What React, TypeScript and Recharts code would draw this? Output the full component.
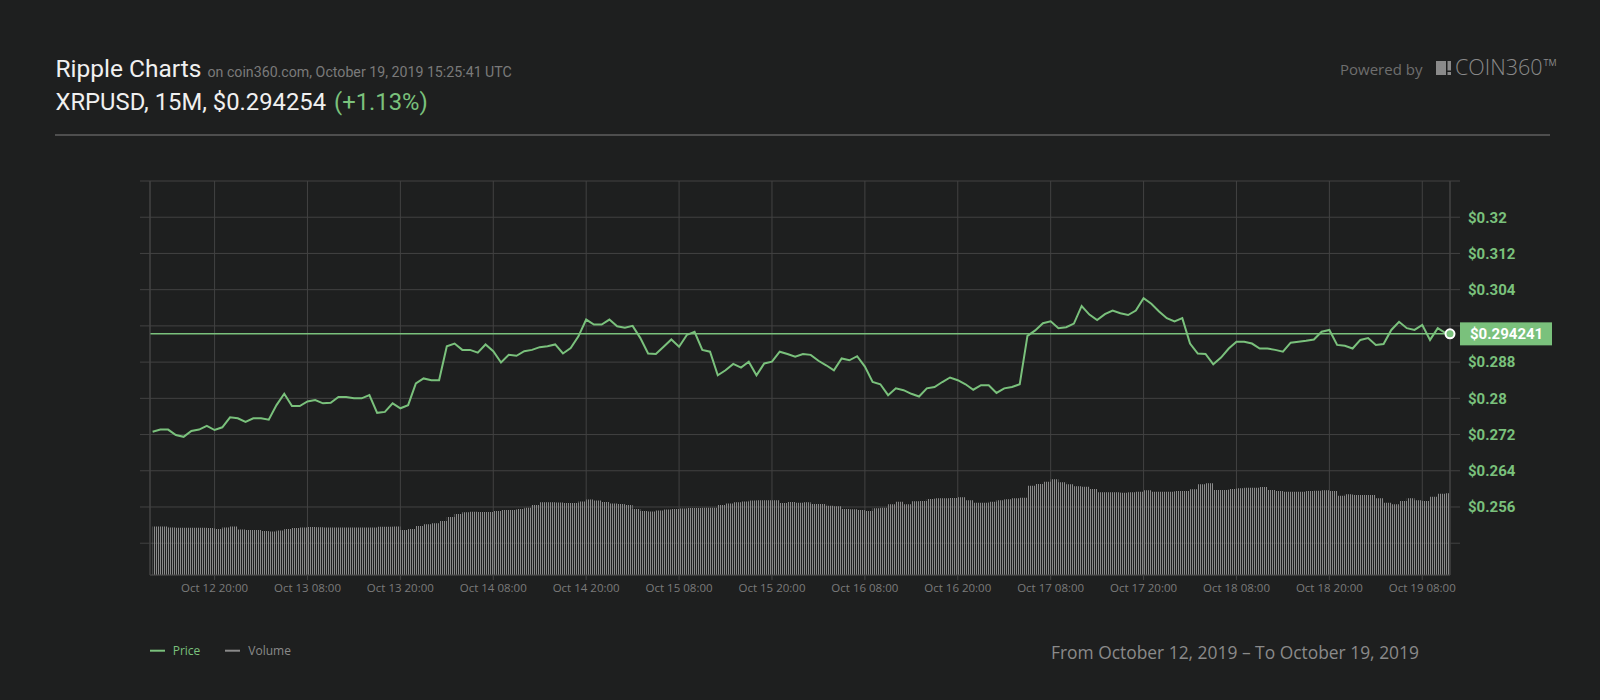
import React from 'react';
import {
  ComposedChart,
  Line,
  Area,
  XAxis,
  YAxis,
  CartesianGrid,
  ReferenceLine,
  ReferenceDot,
} from 'recharts';

const BG = '#1e1f1f';
const GRID = '#424242';
const GREEN = '#7ac17c';
const VOL_GREY = '#8a8a8a';

// x = hours since Oct 12 2019 00:00, one reading per hour from 12:00 on
const FIRST_HOUR = 12;
const LAST_HOUR = 179.58; // live candle, Oct 19 ~11:35
const X_DOMAIN: [number, number] = [11.66, 179.58];

const xTicks = [20, 32, 44, 56, 68, 80, 92, 104, 116, 128, 140, 152, 164, 176];
const xTickLabels = [
  'Oct 12 20:00', 'Oct 13 08:00', 'Oct 13 20:00', 'Oct 14 08:00', 'Oct 14 20:00',
  'Oct 15 08:00', 'Oct 15 20:00', 'Oct 16 08:00', 'Oct 16 20:00', 'Oct 17 08:00',
  'Oct 17 20:00', 'Oct 18 08:00', 'Oct 18 20:00', 'Oct 19 08:00',
];

const priceTicks = [0.248, 0.256, 0.264, 0.272, 0.28, 0.288, 0.296, 0.304, 0.312, 0.32, 0.328];
const hiddenPriceTicks = [0.248, 0.296, 0.328];
const PRICE_DOMAIN: [number, number] = [0.24098, 0.328];

const CURRENT_PRICE = 0.294241;

const hourlyPrice = [
  0.2726, 0.2731, 0.2731, 0.2719, 0.2715, 0.2728, 0.2731, 0.2739, 0.2730, 0.2736, 0.2758, 0.2756,
  0.2748, 0.2756, 0.2756, 0.2753, 0.2785, 0.2810, 0.2783, 0.2783, 0.2793, 0.2796, 0.2789, 0.2790,
  0.2803, 0.2803, 0.2800, 0.2800, 0.2807, 0.2768, 0.2770, 0.2789, 0.2778, 0.2785, 0.2833, 0.2844,
  0.2840, 0.2840, 0.2915, 0.2921, 0.2907, 0.2907, 0.2901, 0.2919, 0.2904, 0.2879, 0.2896, 0.2894,
  0.2904, 0.2907, 0.2913, 0.2915, 0.2919, 0.2899, 0.2911, 0.2937, 0.2974, 0.2963, 0.2963, 0.2974,
  0.2959, 0.2956, 0.2960, 0.2933, 0.2899, 0.2898, 0.2914, 0.2930, 0.2914, 0.2940, 0.2947, 0.2907,
  0.2903, 0.2851, 0.2862, 0.2876, 0.2868, 0.2881, 0.2851, 0.2877, 0.2881, 0.2903, 0.2898, 0.2892,
  0.2898, 0.2896, 0.2883, 0.2873, 0.2862, 0.2888, 0.2884, 0.2893, 0.2870, 0.2836, 0.2831, 0.2807,
  0.2822, 0.2818, 0.2810, 0.2804, 0.2822, 0.2825, 0.2836, 0.2846, 0.2840, 0.2831, 0.2819, 0.2829,
  0.2829, 0.2812, 0.2822, 0.2825, 0.2831, 0.2938, 0.2950, 0.2966, 0.2970, 0.2955, 0.2957, 0.2965,
  0.3004, 0.2985, 0.2973, 0.2986, 0.2994, 0.2988, 0.2984, 0.2994, 0.3021, 0.3009, 0.2992, 0.2977,
  0.2970, 0.2977, 0.2921, 0.2899, 0.2898, 0.2875, 0.2890, 0.2910, 0.2925, 0.2925, 0.2921, 0.2910,
  0.2910, 0.2907, 0.2903, 0.2923, 0.2925, 0.2927, 0.2930, 0.2947, 0.2951, 0.2918, 0.2916, 0.2910,
  0.2929, 0.2933, 0.2918, 0.2920, 0.2951, 0.2969, 0.2955, 0.2951, 0.2962, 0.2929, 0.2955, 0.2944,
];

// volume, relative units (axis hidden)
const hourlyVolume = [
  48.5, 48.5, 47.5, 47.3, 47.3, 47.3, 47.3, 47, 46, 47.5, 48.5, 45.5,
  45, 45, 44, 43.5, 44.5, 46, 47, 47.5, 48, 47.7, 47.5, 47.5,
  47.5, 47.5, 47.5, 47.5, 47.5, 48.3, 48.3, 48.5, 45, 46, 49, 50.7,
  51.7, 54, 58, 61, 62.7, 63.3, 63, 63, 64, 65, 65, 66,
  67.3, 70, 72.7, 72.7, 72.5, 72, 72, 73.5, 75.5, 74.5, 73, 71.5,
  71, 70, 66, 64, 63.5, 64.5, 65.5, 66, 66.5, 67, 67, 67.3,
  67.3, 70, 71.5, 72.7, 73.5, 74.5, 74.7, 74.7, 74.7, 72, 73, 72.3,
  72.7, 71, 71, 69.3, 68.7, 66, 65.7, 65, 64, 66.7, 67.3, 70.7,
  73.3, 70.7, 73.7, 74, 76, 76.7, 76.7, 77, 77.7, 74.7, 72.3, 72.3,
  73.3, 74.7, 75.7, 76.7, 77.3, 89.3, 91, 93.3, 95.7, 92.7, 90.7, 88.7,
  88.3, 86, 82.7, 82.7, 82.7, 82.3, 82.7, 83.3, 84.7, 83.3, 83.3, 83.3,
  84, 84, 85.7, 90.7, 91.7, 85, 85, 86, 86.7, 87.3, 87.3, 88,
  85, 84, 83.3, 83.3, 83.3, 84, 84.3, 84.7, 84, 79.3, 80.7, 80,
  80, 80, 76.7, 72.3, 70.7, 74, 76.7, 74.7, 74, 78.3, 81.3, 81.7,
];
const VOL_DOMAIN: [number, number] = [0, 394];

const chartData = hourlyPrice.map((price, i) => ({
  t: FIRST_HOUR + i,
  price,
  vol: hourlyVolume[i],
}));
chartData.push({ t: LAST_HOUR, price: CURRENT_PRICE, vol: hourlyVolume[hourlyVolume.length - 1] });

const formatPrice = (v: number) => (hiddenPriceTicks.includes(v) ? '' : `$${+v.toFixed(3)}`);
const formatTime = (v: number) => xTickLabels[xTicks.indexOf(v)] ?? '';

const PriceTag = (props: any) => {
  const { viewBox } = props;
  if (!viewBox) return null;
  const x = viewBox.x + viewBox.width + 10;
  const y = viewBox.y;
  return (
    <g>
      <rect x={x} y={y - 11.5} width={92} height={23} fill={GREEN} />
      <text x={x + 10} y={y + 5.5} fill="#ffffff" fontSize={15} fontWeight={700} fontFamily="Roboto">
        ${CURRENT_PRICE}
      </text>
    </g>
  );
};

function Decorations() {
  return (
    <svg width={1600} height={700} style={{ position: 'absolute', left: 0, top: 0 }}>
      <text x={55.5} y={76.7} fontFamily="Roboto" fontSize={24.5} fill="#f0f0f0">
        Ripple Charts
        <tspan dx={6} fontSize={14.2} fill="#7a7a7a">on coin360.com, October 19, 2019 15:25:41 UTC</tspan>
      </text>
      <text x={55.5} y={110} fontFamily="Roboto" fontSize={23.8} fill="#f0f0f0">
        XRPUSD, 15M, $0.294254
        <tspan dx={8} fill={GREEN}>(+1.13%)</tspan>
      </text>
      <line x1={55} x2={1550} y1={135} y2={135} stroke="#4e4e4e" strokeWidth={2} />

      <text x={1340} y={74.7} fontFamily="Open Sans" fontSize={15} fill="#6e6e6e">Powered by</text>
      <rect x={1436} y={61} width={10} height={14} fill={VOL_GREY} />
      <rect x={1447.5} y={61} width={3.5} height={9.5} fill={VOL_GREY} />
      <rect x={1447.5} y={72} width={3.5} height={3} fill={VOL_GREY} />
      <text x={1455} y={75} fontFamily="Open Sans" fontWeight={300} fontSize={21.5} fill={VOL_GREY}>
        COIN360
        <tspan dx={1} dy={-9} fontSize={9} fontWeight={400}>TM</tspan>
      </text>

      <line x1={150} x2={165} y1={650.7} y2={650.7} stroke={GREEN} strokeWidth={2} />
      <text x={172.7} y={655} fontFamily="Open Sans" fontSize={12} fill={GREEN}>Price</text>
      <line x1={225} x2={240} y1={650.7} y2={650.7} stroke={VOL_GREY} strokeWidth={2} />
      <text x={248.3} y={655} fontFamily="Open Sans" fontSize={12} fill={VOL_GREY}>Volume</text>

      <text x={1051} y={658.8} fontFamily="Open Sans" fontSize={17.4} fill={VOL_GREY}>
        From October 12, 2019 – To October 19, 2019
      </text>
    </svg>
  );
}

export default function App() {
  return (
    <div style={{ position: 'absolute', left: 0, top: 0, width: 1600, height: 700, background: BG, overflow: 'hidden' }}>
      <Decorations />
      <div style={{ position: 'absolute', left: 0, top: 0 }}>
        <ComposedChart
          width={1600}
          height={700}
          data={chartData}
          margin={{ top: 181, right: 0, bottom: 95, left: 140 }}
        >
          <defs>
            <pattern id="volStripes" patternUnits="userSpaceOnUse" width={2} height={8}>
              <rect x={0} y={0} width={1} height={8} fill={VOL_GREY} />
            </pattern>
          </defs>
          <CartesianGrid yAxisId="price" stroke={GRID} strokeWidth={1} />
          <XAxis
            dataKey="t"
            type="number"
            domain={X_DOMAIN}
            ticks={xTicks}
            allowDataOverflow
            tickFormatter={formatTime}
            height={30}
            tickSize={5}
            tickMargin={4}
            axisLine={{ stroke: GRID }}
            tickLine={{ stroke: GRID }}
            tick={{ fill: '#7b7b7b', fontSize: 11.5, fontFamily: 'Open Sans' }}
          />
          <YAxis
            yAxisId="priceLeft"
            orientation="left"
            domain={PRICE_DOMAIN}
            ticks={priceTicks}
            allowDataOverflow
            width={10}
            tickSize={10}
            tickFormatter={() => ''}
            axisLine={{ stroke: GRID }}
            tickLine={{ stroke: GRID }}
          />
          <YAxis
            yAxisId="price"
            orientation="right"
            domain={PRICE_DOMAIN}
            ticks={priceTicks}
            allowDataOverflow
            width={150}
            tickSize={10}
            tickMargin={8}
            tickFormatter={formatPrice}
            axisLine={{ stroke: GRID }}
            tickLine={{ stroke: GRID }}
            tick={{ fill: GREEN, fontSize: 15, fontWeight: 700, fontFamily: 'Roboto' }}
          />
          <YAxis yAxisId="vol" hide domain={VOL_DOMAIN} allowDataOverflow />
          <Area
            yAxisId="vol"
            dataKey="vol"
            type="stepAfter"
            stroke="none"
            fill="url(#volStripes)"
            fillOpacity={1}
            isAnimationActive={false}
          />
          <ReferenceLine
            yAxisId="price"
            y={CURRENT_PRICE}
            stroke={GREEN}
            strokeWidth={1.5}
            label={<PriceTag />}
          />
          <Line
            yAxisId="price"
            dataKey="price"
            type="linear"
            stroke={GREEN}
            strokeWidth={2}
            dot={false}
            isAnimationActive={false}
          />
          <ReferenceDot
            yAxisId="price"
            x={LAST_HOUR}
            y={CURRENT_PRICE}
            r={4.5}
            fill={GREEN}
            stroke="#ffffff"
            strokeWidth={2}
          />
        </ComposedChart>
      </div>
    </div>
  );
}
